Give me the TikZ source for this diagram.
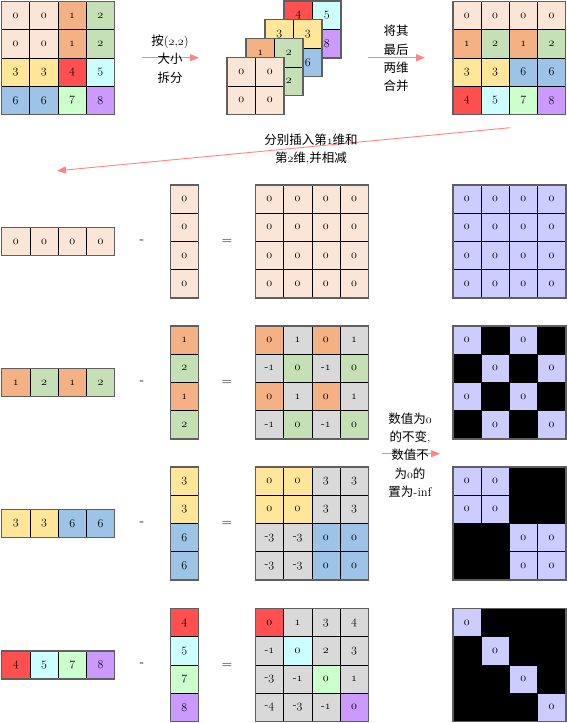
\documentclass[tikz,border=0pt]{standalone}
\usepackage{fontspec}
\newfontfamily\cjk{Noto Sans CJK SC}
\usetikzlibrary{arrows.meta}
\definecolor{pe}{HTML}{FBE5D6}
\definecolor{or}{HTML}{F4B183}
\definecolor{gr}{HTML}{C5E0B4}
\definecolor{ye}{HTML}{FFE699}
\definecolor{rd}{HTML}{FF4F4F}
\definecolor{cy}{HTML}{CCFFFF}
\definecolor{bl}{HTML}{9DC3E6}
\definecolor{lg}{HTML}{CCFFCC}
\definecolor{pu}{HTML}{CC99FF}
\definecolor{gy}{HTML}{D9D9D9}
\definecolor{lv}{HTML}{CCCCFF}
\definecolor{bk}{HTML}{000000}
\definecolor{arrowc}{HTML}{FF8585}
\definecolor{edgec}{HTML}{5F5F5F}
\newcommand\osn[1]{{\usefont{OML}{cmm}{m}{it}#1}}
\newcommand\mn{{\fontencoding{TU}\fontshape{n}\rmfamily -}}
\newcommand\cellfont{\fontsize{12}{14}\usefont{OML}{cmm}{m}{it}}
\tikzset{
  cellbox/.style={draw=black, line width=0.6pt, inner sep=0pt, font=\cellfont, text=black},
  outerline/.style={draw=edgec, line width=1.4pt},
  arr/.style={draw=arrowc, line width=0.9pt, -{Triangle[length=9pt,width=7pt]}},
  lbl/.style={font=\cjk\fontsize{12.5}{18.4}\selectfont, align=center, inner sep=0pt, text=black},
  opsign/.style={font=\rmfamily\fontsize{14}{14}\selectfont, inner sep=0pt}
}
\newcommand\mkgrid[7]{%
  \foreach[count=\k from 0] \cl/\tx in {#7}{%
    \pgfmathtruncatemacro\myrow{floor(\k/#5)}%
    \pgfmathtruncatemacro\mycol{mod(\k,#5)}%
    \node[cellbox, fill=\cl, minimum size=#4pt] (#1-\myrow-\mycol)
      at ({#2+(\mycol+0.5)*#4},{#3+(\myrow+0.5)*#4}) {\tx};
  }%
  \draw[outerline] (#2,#3) rectangle ++({#5*#4},{#6*#4});
}
\begin{document}
\begin{tikzpicture}[x=1pt,y=-1pt]
\useasboundingbox (0,0) rectangle (567,723);
% ---------- top row ----------
\mkgrid{src}{1.5}{1.5}{28.2}{4}{4}{pe/0,pe/0,or/1,gr/2,pe/0,pe/0,or/1,gr/2,ye/3,ye/3,rd/4,cy/5,bl/6,bl/6,lg/7,pu/8}
\mkgrid{sfour}{284}{1}{28.5}{2}{2}{rd/4,cy/5,lg/7,pu/8}
\mkgrid{sthree}{265}{19.5}{28.5}{2}{2}{ye/3,ye/3,bl/6,bl/6}
\mkgrid{stwo}{246}{38.5}{28.5}{2}{2}{or/1,gr/2,or/1,gr/2}
\mkgrid{sone}{227}{57.5}{28.5}{2}{2}{pe/0,pe/0,pe/0,pe/0}
\mkgrid{mrg}{452.8}{1.5}{28.2}{4}{4}{pe/0,pe/0,pe/0,pe/0,or/1,gr/2,or/1,gr/2,ye/3,ye/3,bl/6,bl/6,rd/4,cy/5,lg/7,pu/8}
% arrows top
\coordinate (a1s) at (142,57.7);
\coordinate (a1e) at (199,57.7);
\draw[arr] (a1s) -- (a1e);
\node[lbl] (t1) at (170,59) {按{\rmfamily(}\osn{2}{\rmfamily,}\osn{2}{\rmfamily)}\\大小\\拆分};
\coordinate (a2s) at (368,57.7);
\coordinate (a2e) at (425,57.7);
\draw[arr] (a2s) -- (a2e);
\node[lbl] (t2) at (396,58.5) {将其\\最后\\两维\\合并};
\coordinate (a3s) at (510,127.7);
\coordinate (a3e) at (57,170.8);
\draw[arr] (a3s) -- (a3e);
\node[lbl] (t3) at (311,149.5) {分别插入第\osn{1}维和\\第\osn{2}维{\rmfamily,}并相减};
% ---------- rows ----------
% row 1
\mkgrid{rva}{1.7}{227.3}{28.25}{4}{1}{pe/0,pe/0,pe/0,pe/0}
\mkgrid{cva}{170.3}{185}{28.25}{1}{4}{pe/0,pe/0,pe/0,pe/0}
\mkgrid{dfa}{255.3}{185}{28.25}{4}{4}{pe/0,pe/0,pe/0,pe/0,pe/0,pe/0,pe/0,pe/0,pe/0,pe/0,pe/0,pe/0,pe/0,pe/0,pe/0,pe/0}
\mkgrid{mka}{452.8}{185}{28.25}{4}{4}{lv/0,lv/0,lv/0,lv/0,lv/0,lv/0,lv/0,lv/0,lv/0,lv/0,lv/0,lv/0,lv/0,lv/0,lv/0,lv/0}
\node[opsign] (mia) at (142,241.5) {-};
\node[opsign] (eqa) at (227,242) {=};
% row 2
\mkgrid{rvb}{1.7}{368.3}{28.25}{4}{1}{or/1,gr/2,or/1,gr/2}
\mkgrid{cvb}{170.3}{326}{28.25}{1}{4}{or/1,gr/2,or/1,gr/2}
\mkgrid{dfb}{255.3}{326}{28.25}{4}{4}{or/0,gy/1,or/0,gy/1,gy/\mn1,gr/0,gy/\mn1,gr/0,or/0,gy/1,or/0,gy/1,gy/\mn1,gr/0,gy/\mn1,gr/0}
\mkgrid{mkb}{452.8}{326}{28.25}{4}{4}{lv/0,bk/{},lv/0,bk/{},bk/{},lv/0,bk/{},lv/0,lv/0,bk/{},lv/0,bk/{},bk/{},lv/0,bk/{},lv/0}
\node[opsign] (mib) at (142,382.5) {-};
\node[opsign] (eqb) at (227,383) {=};
% row 3
\mkgrid{rvc}{1.7}{509.3}{28.25}{4}{1}{ye/3,ye/3,bl/6,bl/6}
\mkgrid{cvc}{170.3}{467}{28.25}{1}{4}{ye/3,ye/3,bl/6,bl/6}
\mkgrid{dfc}{255.3}{467}{28.25}{4}{4}{ye/0,ye/0,gy/3,gy/3,ye/0,ye/0,gy/3,gy/3,gy/\mn3,gy/\mn3,bl/0,bl/0,gy/\mn3,gy/\mn3,bl/0,bl/0}
\mkgrid{mkc}{452.8}{467}{28.25}{4}{4}{lv/0,lv/0,bk/{},bk/{},lv/0,lv/0,bk/{},bk/{},bk/{},bk/{},lv/0,lv/0,bk/{},bk/{},lv/0,lv/0}
\node[opsign] (mic) at (142,523.5) {-};
\node[opsign] (eqc) at (227,524) {=};
% row 4
\mkgrid{rvd}{1.7}{650.8}{28.25}{4}{1}{rd/4,cy/5,lg/7,pu/8}
\mkgrid{cvd}{170.3}{608.5}{28.25}{1}{4}{rd/4,cy/5,lg/7,pu/8}
\mkgrid{dfd}{255.3}{608.5}{28.25}{4}{4}{rd/0,gy/1,gy/3,gy/4,gy/\mn1,cy/0,gy/2,gy/3,gy/\mn3,gy/\mn1,lg/0,gy/1,gy/\mn4,gy/\mn3,gy/\mn1,pu/0}
\mkgrid{mkd}{452.8}{608.5}{28.25}{4}{4}{lv/0,bk/{},bk/{},bk/{},bk/{},lv/0,bk/{},bk/{},bk/{},bk/{},lv/0,bk/{},bk/{},bk/{},bk/{},lv/0}
\node[opsign] (mid) at (142,665) {-};
\node[opsign] (eqd) at (227,665.5) {=};
% middle arrow
\coordinate (a4s) at (382,453.7);
\coordinate (a4e) at (440,453.7);
\draw[arr] (a4s) -- (a4e);
\node[lbl] (t4) at (410,455) {数值为\osn{0}\\的不变{\rmfamily,}\\数值不\\为\osn{0}的\\置为{\rmfamily -inf}};
\end{tikzpicture}
\end{document}
